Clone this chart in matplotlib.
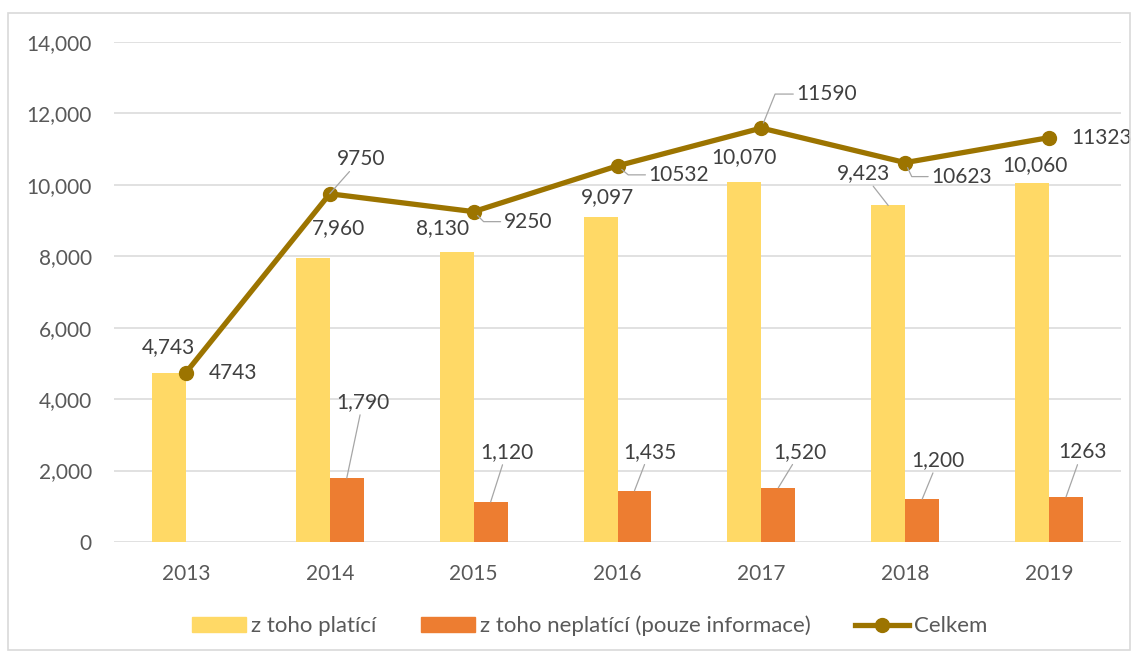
import numpy as np
import matplotlib.pyplot as plt
from matplotlib.patches import Patch, Rectangle
from matplotlib.lines import Line2D

plt.rcParams['font.family'] = ['Lato', 'DejaVu Sans']

# --- Daten --- #
roky = ['2013', '2014', '2015', '2016', '2017', '2018', '2019']
platici = [4743, 7960, 8130, 9097, 10070, 9423, 10060]
neplatici = [np.nan, 1790, 1120, 1435, 1520, 1200, 1263]
celkem = [4743, 9750, 9250, 10532, 11590, 10623, 11323]

# Popisky dat (2019 neplatici je v originale bez oddelovace tisicu)
popisky_platici = ['{:,.0f}'.format(v) for v in platici]
popisky_neplatici = ['' if np.isnan(v) else '{:,.0f}'.format(v) for v in neplatici]
popisky_neplatici[6] = '1263'
popisky_celkem = ['{:.0f}'.format(v) for v in celkem]

# --- Styl --- #
c_platici = '#FFD966'
c_neplatici = '#ED7D31'
c_celkem = '#9C7400'
c_grid = '#D9D9D9'
c_text = '#404040'
c_tick = '#595959'
c_leader = '#A6A6A6'
fs = 15

# posuny popisku v pixelech (dx, dy) a typ odkazove cary
off_platici = [(-1, 26), (26, 30), (-14, 24), (7, 20), (0, 25), (-25, 32), (3, 18)]
lead_platici = [None, None, None, None, None, 'rovne', None]
off_neplatici = [None, (16, 76), (16, 50), (15, 39), (22, 36), (16, 39), (16, 45)]
lead_neplatici = [None, 'rovne', 'rovne', 'rovne', 'rovne', 'rovne', 'rovne']
off_celkem = [(47, 0), (31, 35), (54, -10), (61, -9), (65, 34), (56, -14), (53, 0)]
lead_celkem = [None, 'rovne', -45, -40, 68, -65, None]

fig = plt.figure(figsize=(11.36, 6.56), dpi=100)
ax = fig.add_axes([114/1136, 1-542/656, 1007/1136, 500/656])

x = np.arange(len(roky))
w = 0.236

ax.bar(x - w/2, platici, w, color=c_platici, zorder=2)
ax.bar(x + w/2, neplatici, w, color=c_neplatici, zorder=2)
ax.plot(x, celkem, color=c_celkem, lw=3.8, marker='o', ms=10, zorder=3,
        solid_joinstyle='round')

ax.set_ylim(0, 14000)
ax.set_xlim(-0.5, len(roky) - 0.5)
ax.set_yticks(np.arange(0, 14001, 2000))
ax.set_yticklabels(['{:,}'.format(v) for v in range(0, 14001, 2000)])
ax.set_xticks(x)
ax.set_xticklabels(roky)
ax.tick_params(axis='both', length=0, labelsize=fs, labelcolor=c_tick)
ax.tick_params(axis='y', pad=16)
ax.tick_params(axis='x', pad=16)
ax.yaxis.grid(True, color=c_grid, lw=1.1, zorder=0)
ax.set_axisbelow(True)
for s in ax.spines.values():
    s.set_visible(False)


def popisek(px, py, text, off, leader):
    kw = {}
    if leader == 'rovne':
        kw['arrowprops'] = dict(arrowstyle='-', color=c_leader, lw=0.9,
                                shrinkA=0, shrinkB=0)
    elif leader is not None:
        kw['arrowprops'] = dict(arrowstyle='-', color=c_leader, lw=0.9,
                                shrinkA=0, shrinkB=4, relpos=(0, 0.5),
                                connectionstyle='angle,angleA=0,angleB={},rad=0'.format(leader))
    ax.annotate(text, (px, py), xytext=off, textcoords='offset pixels',
                ha='center', va='center', fontsize=fs, color=c_text, zorder=4, **kw)


for i in range(len(roky)):
    popisek(x[i] - w/2, platici[i], popisky_platici[i], off_platici[i], lead_platici[i])
    if not np.isnan(neplatici[i]):
        popisek(x[i] + w/2, neplatici[i], popisky_neplatici[i], off_neplatici[i], lead_neplatici[i])
    popisek(x[i], celkem[i], popisky_celkem[i], off_celkem[i], lead_celkem[i])

# Legenda
handles = [Patch(color=c_platici), Patch(color=c_neplatici),
           Line2D([], [], color=c_celkem, lw=3.8, marker='o', ms=10)]
labels = ['z toho platící', 'z toho neplatící (pouze informace)', 'Celkem']
fig.legend(handles, labels, loc='center', bbox_to_anchor=(590/1136, 1-626/656),
           ncol=3, frameon=False, fontsize=16, labelcolor=c_tick,
           handlelength=2.4, handleheight=0.6, handletextpad=0.25, columnspacing=2.0)

# ramecek grafu
fig.patches.append(Rectangle((8/1136, 1-650/656), 1122/1136, 637/656,
                             transform=fig.transFigure, fill=False,
                             edgecolor=c_grid, lw=1.2))

fig.savefig('out.png', dpi=100)
